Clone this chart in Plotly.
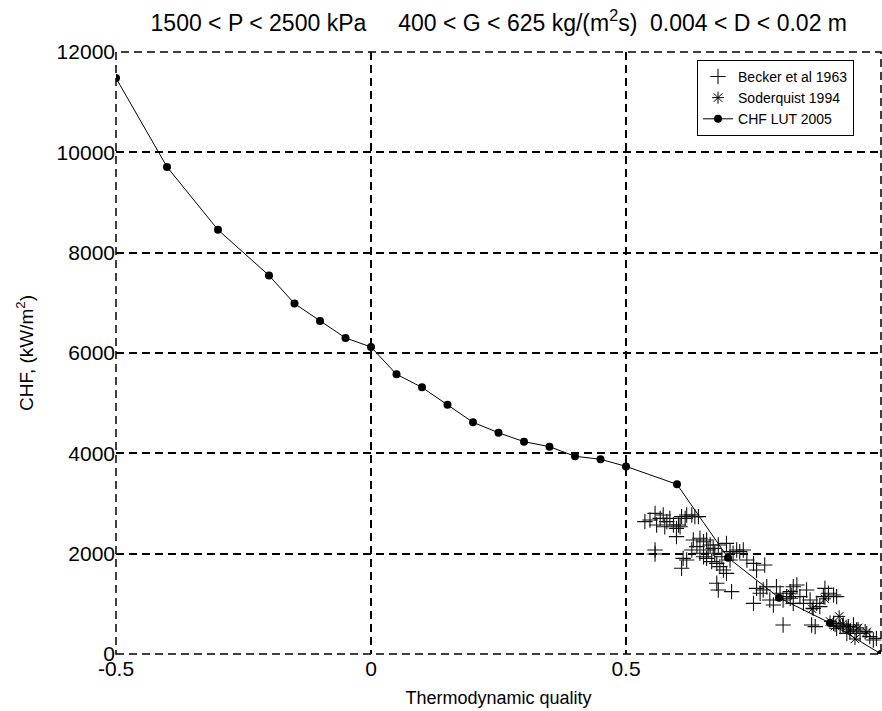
import plotly.graph_objects as go

# CHF look-up table 2005
lut_x = [-0.5, -0.4, -0.3, -0.2, -0.15, -0.1, -0.05, 0.0, 0.05, 0.1, 0.15, 0.2,
         0.25, 0.3, 0.35, 0.4, 0.45, 0.5, 0.6, 0.7, 0.8, 0.9, 1.0]
lut_y = [11480, 9710, 8455, 7545, 6985, 6640, 6300, 6120, 5575, 5315, 4970, 4618,
         4411, 4232, 4133, 3941, 3882, 3740, 3382, 1920, 1122, 618, 0]

# Becker et al 1963
becker_x = [0.537, 0.557, 0.560, 0.573, 0.576, 0.586, 0.593, 0.599, 0.603, 0.609,
            0.619, 0.629, 0.635, 0.642, 0.599, 0.567, 0.580, 0.606, 0.616, 0.547,
            0.557, 0.557,
            0.612, 0.609, 0.619, 0.632, 0.639, 0.645, 0.652, 0.658, 0.665, 0.671,
            0.629, 0.645, 0.658, 0.668, 0.678, 0.684, 0.691, 0.697, 0.704, 0.710,
            0.717, 0.723, 0.730, 0.737, 0.750, 0.756, 0.772, 0.681, 0.697, 0.704,
            0.688, 0.674, 0.661, 0.652,
            0.678, 0.681, 0.707,
            0.750, 0.756, 0.763, 0.769, 0.776, 0.782, 0.789, 0.795, 0.802, 0.808,
            0.815, 0.822, 0.828, 0.835, 0.841, 0.848, 0.854, 0.861, 0.874, 0.887,
            0.890, 0.897, 0.907, 0.913, 0.880, 0.867, 0.828, 0.822,
            0.808, 0.864, 0.871,
            0.907, 0.913, 0.920, 0.926, 0.936, 0.946, 0.952, 0.959, 0.969, 0.978,
            0.985, 0.991, 0.933, 0.939]
becker_y = [2638, 2804, 2571, 2771, 2538, 2704, 2571, 2505, 2571, 2738,
            2771, 2771, 2738, 2738, 2339, 2704, 2638, 2538, 2704, 2671,
            2073, 1993,
            1907, 1708, 1874, 2272, 2140, 2306, 2239, 2272, 2173, 2106,
            2073, 2007, 1907, 1841, 1807, 1741, 1674, 1608, 1874, 2007,
            2073, 2040, 2073, 1874, 1807, 1674, 1774, 2173, 2206, 2040,
            1940, 2007, 2073, 1940,
            1409, 1276, 1243,
            1010, 1309, 1210, 1276, 1342, 1077, 977, 1342, 1210, 1077,
            1143, 1243, 1342, 1376, 1143, 1010, 1276, 1077, 1010, 1143,
            1309, 1210, 1176, 1143, 944, 910, 1010, 1110,
            578, 578, 545,
            611, 512, 545, 578, 545, 578, 479, 412, 445, 346,
            279, 312, 412, 445]

# Soderquist 1994
soder_x = [0.918, 0.972, 0.949, 0.933, 0.955, 0.925, 0.940, 0.890, 0.865, 0.825, 0.900, 0.910]
soder_y = [750, 440, 300, 540, 520, 600, 480, 1100, 900, 1200, 650, 560]

x_ticks = [-0.5, 0, 0.5, 1.0]
x_ticktext = ["-0.5", "0", "0.5", ""]
y_ticks = [0, 2000, 4000, 6000, 8000, 10000, 12000]
y_ticktext = ["0", "2000", "4000", "6000", "8000", "10000", "12000"]

FONT = "Arial, Liberation Sans, Helvetica, sans-serif"
GRID_DASH = "8px,5px"

fig = go.Figure()
fig.add_trace(go.Scatter(
    x=becker_x, y=becker_y, mode="markers", name="Becker et al 1963",
    marker=dict(symbol="cross-thin", size=11, color="black",
                line=dict(width=1.1, color="#111111"))))
fig.add_trace(go.Scatter(
    x=soder_x, y=soder_y, mode="markers", name="Soderquist 1994",
    marker=dict(symbol="asterisk", size=10, color="black",
                line=dict(width=1, color="black"))))
fig.add_trace(go.Scatter(
    x=lut_x, y=lut_y, mode="lines+markers", name="CHF LUT 2005",
    line=dict(color="black", width=1),
    marker=dict(symbol="circle", size=8, color="black")))

axis_common = dict(
    showgrid=True, gridcolor="black", gridwidth=1.5, griddash=GRID_DASH,
    zeroline=False, showline=False, ticks="inside", ticklen=4, tickcolor="black",
    automargin=False,
    tickfont=dict(family=FONT, size=21, color="black"),
)

fig.update_layout(
    width=882, height=711,
    margin=dict(l=116, r=1, t=52, b=57),
    paper_bgcolor="white", plot_bgcolor="white",
    font=dict(family=FONT, color="black"),
    title=dict(
        text="1500 < P < 2500 kPa\u00a0\u00a0\u00a0\u00a0\u00a0400 < G < 625 kg/(m<sup>2</sup>s)\u00a0\u00a00.004 < D < 0.02 m",
        x=0.5655, xanchor="center", y=0.968, yanchor="middle",
        font=dict(family=FONT, size=23, color="black")),
    xaxis=dict(range=[-0.5, 1.0], tickvals=x_ticks, ticktext=x_ticktext,
               title=dict(text="Thermodynamic quality", font=dict(size=18), standoff=12),
               **axis_common),
    yaxis=dict(range=[0, 12000], tickvals=y_ticks, ticktext=y_ticktext,
               title=dict(text="CHF, (kW/m<sup>2</sup>)", font=dict(size=19), standoff=17),
               **axis_common),
    legend=dict(x=0.7595, y=0.987, xanchor="left", yanchor="top",
                bgcolor="white", bordercolor="black", borderwidth=1,
                font=dict(family=FONT, size=14, color="black"),
                tracegroupgap=0, entrywidth=135, entrywidthmode="pixels"),
    showlegend=True,
    shapes=[dict(type="rect", xref="paper", yref="paper", x0=0, x1=1, y0=0, y1=1,
                 line=dict(color="black", width=1.5, dash=GRID_DASH), layer="below")],
)

fig.write_html("out.html", config={"displayModeBar": False},
               post_script="document.body.style.margin='0';document.body.style.padding='0';")
